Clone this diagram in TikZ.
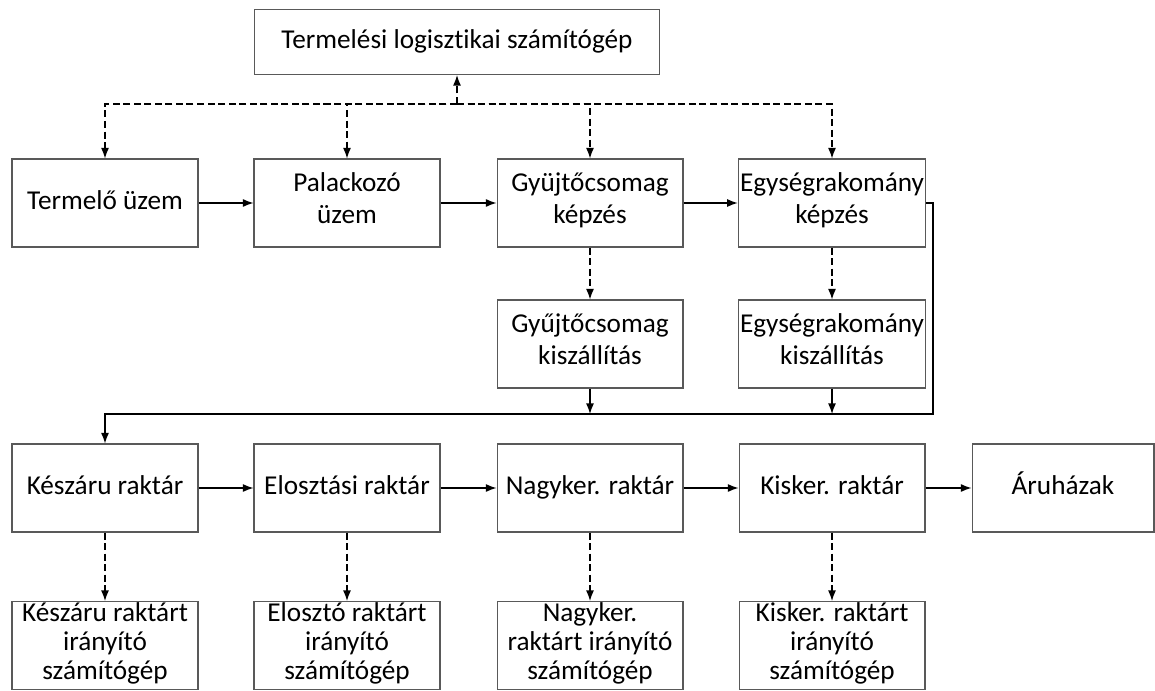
\documentclass[tikz,border=0pt]{standalone}
\usepackage{fontspec}
\setmainfont{Carlito}[Ligatures=NoCommon]
\usepackage{tikz}
\usetikzlibrary{arrows.meta}
\newlength{\boxwidth}
\setlength{\boxwidth}{3.72cm}
\newlength{\boxheight}
\setlength{\boxheight}{1.76cm}
\tikzset{box/.style = {shape=rectangle,draw=black!65,line width=0.6pt,minimum width=\boxwidth,minimum height=\boxheight,align=center,inner xsep=1pt,inner ysep=0pt,font=\fontsize{15.5}{18.2}\selectfont,execute at begin node=\strut,execute at end node=\strut}}
\tikzset{lowbox/.style = {box,anchor=north,font=\fontsize{15.5}{16.4}\selectfont}}
\tikzset{edge/.style = {->,> = {Latex[length=6pt,width=4.5pt]},line width=0.7pt}}
\tikzset{link/.style = {edge,dash pattern=on 4pt off 2pt}}

\begin{document}
\begin{tikzpicture}[x=0.02cm,y=-0.02cm]
                \useasboundingbox (0,0) rectangle (1155,690);
                \node[box,minimum width=8.1cm,minimum height=1.3cm] (top) at (457,42) {Termelési logisztikai számítógép};
                \coordinate (hub) at (457,104);
                \coordinate (bus) at (933,414);
                % termelés
                \node[box] (tu) at (105,203) {Termelő üzem};
                \node[box] (pu) at (347,203) {Palackozó\\üzem};
                \node[box] (gk) at (590,203) {Gyüjtőcsomag\\képzés};
                \node[box] (ek) at (832,203) {Egységrakomány\\képzés};
                \node[box] (gsz) at (590,344) {Gyűjtőcsomag\\kiszállítás};
                \node[box] (esz) at (832,344) {Egységrakomány\\kiszállítás};
                \draw[link] (hub) -- (top);
                \draw[link] (hub) -| (tu);
                \draw[link] (hub) -| (pu);
                \draw[link] (hub) -| (gk);
                \draw[link] (hub) -| (ek);
                \draw[edge] (tu) -- (pu);
                \draw[edge] (pu) -- (gk);
                \draw[edge] (gk) -- (ek);
                \draw[link] (gk) -- (gsz);
                \draw[link] (ek) -- (esz);
                % raktárak
                \node[box] (kr) at (105,488) {Készáru raktár};
                \node[box] (er) at (347,488) {Elosztási raktár};
                \node[box] (nr) at (590,488) {Nagyker. raktár};
                \node[box] (sr) at (832,488) {Kisker. raktár};
                \node[box,minimum width=3.64cm] (ah) at (1063,488) {Áruházak};
                \draw[edge] (ek.east) -| (bus) -| (kr);
                \draw[edge] (gsz) -- (gsz |- bus);
                \draw[edge] (esz) -- (esz |- bus);
                \draw[edge] (kr) -- (er);
                \draw[edge] (er) -- (nr);
                \draw[edge] (nr) -- (sr);
                \draw[edge] (sr) -- (ah);
                % irányító gépek
                \node[lowbox] (kg) at (105,601) {Készáru raktárt\\irányító\\számítógép};
                \node[lowbox] (eg) at (347,601) {Elosztó raktárt\\irányító\\számítógép};
                \node[lowbox] (ng) at (590,601) {Nagyker.\\raktárt irányító\\számítógép};
                \node[lowbox] (sg) at (832,601) {Kisker. raktárt\\irányító\\számítógép};
                \draw[link] (kr) -- (kg);
                \draw[link] (er) -- (eg);
                \draw[link] (nr) -- (ng);
                \draw[link] (sr) -- (sg);
            \end{tikzpicture}
\end{document}
